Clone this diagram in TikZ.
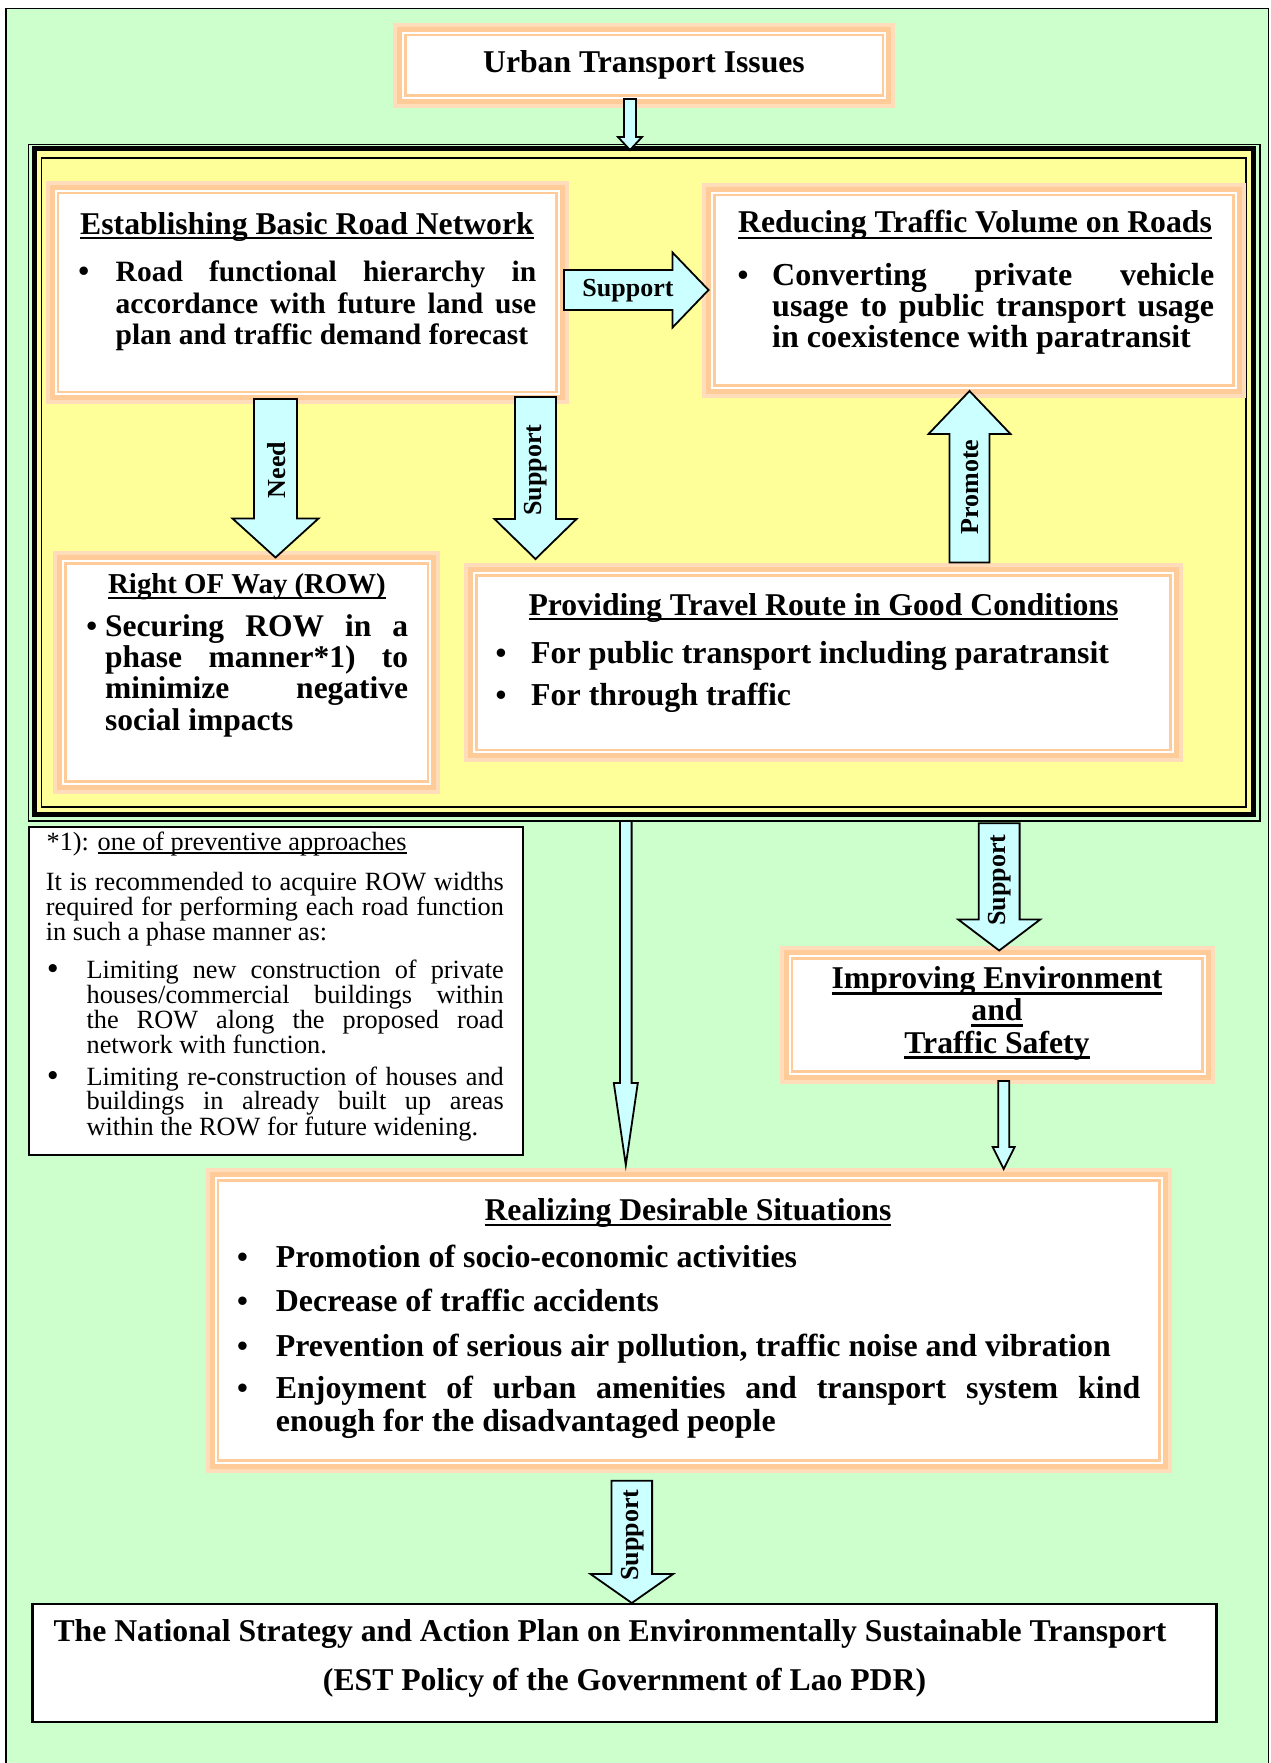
\documentclass[tikz,border=0pt]{standalone}
\usepackage{fontspec}
\setmainfont{Liberation Serif}
\usetikzlibrary{calc,fit}

\definecolor{bggreen}{HTML}{CCFFCC}
\definecolor{frameyellow}{HTML}{FFFF99}
\definecolor{peach}{HTML}{FFCC99}
\definecolor{peachlight}{HTML}{FFDDBB}
\definecolor{arrowcyan}{HTML}{CCFFFF}

% justified line / plain last line inside a parbox
\newcommand\justln[1]{\makebox[\linewidth][s]{#1}\par}
\newcommand\plainln[1]{\makebox[\linewidth][l]{#1}\par}
% underline: depth below baseline, thickness, text
\newsavebox\ulsave
\newcommand\ulin[3]{\sbox\ulsave{#3}\rlap{\rule[-#1]{\wd\ulsave}{#2}}\usebox\ulsave}

% box with layered peach border: name, x1, y1, x2, y2
\newcommand\peachbox[5]{%
  \fill[peachlight] (#2,#3) rectangle (#4,#5);
  \fill[peach] (#2+4,#3+4) rectangle (#4-4,#5-4);
  \fill[white] (#2+9,#3+9) rectangle (#4-9,#5-9);
  \fill[peach] (#2+11,#3+11) rectangle (#4-11,#5-11);
  \fill[white] (#2+13.5,#3+13.5) rectangle (#4-13.5,#5-13.5);
  \node[inner sep=0pt, fit={(#2,#3) (#4,#5)}] (#1) {};
}

% block arrow: name, start, tip, body half width, head half width, head length
\newcommand\blockarrow[6]{%
  \coordinate (#1-h) at ($(#3)!#6pt!(#2)$);
  \draw[arrowbody] ($(#2)!#4pt!90:(#3)$) -- ($(#1-h)!#4pt!90:(#3)$)
    -- ($(#1-h)!#5pt!90:(#3)$) -- (#3) -- ($(#1-h)!#5pt!-90:(#3)$)
    -- ($(#1-h)!#4pt!-90:(#3)$) -- ($(#2)!#4pt!-90:(#3)$) -- cycle;
}

\tikzset{
  hd/.style={inner sep=0pt, anchor=base, font=\bfseries\fontsize{31.7}{34}\selectfont},
  hdsmall/.style={inner sep=0pt, anchor=base, font=\bfseries\fontsize{28.8}{31}\selectfont},
  body/.style={inner sep=0pt, anchor=base west},
  bul/.style={inner sep=0pt, anchor=base, font=\bfseries\fontsize{31}{34}\selectfont},
  notebul/.style={inner sep=0pt, anchor=base, font=\bfseries\fontsize{30}{23}\selectfont},
  lbl/.style={inner sep=0pt, font=\bfseries\fontsize{26}{28}\selectfont},
  arrowbody/.style={draw=black, line width=1.8pt, fill=arrowcyan, line join=miter},
  plainbox/.style={draw=black, fill=white},
}

\begin{document}
\begin{tikzpicture}[x=1pt,y=-1pt]
\useasboundingbox (0,0) rectangle (1270,1763);

% green sheet
\fill[bggreen] (6,8.5) rectangle (1268.5,1763);
\draw[line width=1.8pt] (6,1763) -- (6,8.5) -- (1268.5,8.5) -- (1268.5,1763);

% yellow framed area
\fill[frameyellow] (34,149) rectangle (1253,814);
\draw[line width=5pt] (34,149) rectangle (1253,814);
\draw[line width=1.8pt] (41.5,158) rectangle (1246,807);
\draw[line width=1.5pt] (28.5,144.5) rectangle (1260,821);
\node[inner sep=0pt, fit={(28.5,144.5) (1260,821)}] (frame) {};

% ---------- boxes ----------
\peachbox{urban}{393}{23}{895}{108}
\peachbox{est}{45.5}{181}{568.5}{404}
\peachbox{red}{702}{183}{1245.5}{397.5}
\peachbox{row}{53}{551}{440}{793.5}
\peachbox{prov}{464}{563}{1182.5}{762}
\peachbox{impr}{779.5}{946}{1214.5}{1083.5}
\peachbox{real}{205.5}{1168}{1171.5}{1472.5}

\node[plainbox, line width=2pt, inner sep=0pt, fit={(29.3,826.7) (523,1155)}] (note) {};
\node[plainbox, line width=2.4pt, inner sep=0pt, fit={(32.4,1604) (1216.6,1721.7)}] (policy) {};

% ---------- texts ----------
\node[hd] (urbanT) at (644,73) {Urban Transport Issues};

\node[hd] (estT) at (307,234) {\ulin{5.3pt}{1.9pt}{Establishing Basic Road Network}};
\node[bul] (estBul) at (83.7,281.7) {\textbullet};
\node[body] (estB) at (115.5,281.7) {\parbox[t]{420.5pt}{\bfseries\fontsize{29.5}{31.6}\selectfont
  \justln{Road functional hierarchy in}
  \justln{accordance with future land use}
  \plainln{plan and traffic demand forecast}}};

\node[hd] (redT) at (975,232.7) {\ulin{6.5pt}{2.4pt}{Reducing Traffic Volume on Roads}};
\node[bul] (redBul) at (743,285) {\textbullet};
\node[body] (redB) at (772,285) {\parbox[t]{442pt}{\bfseries\fontsize{32}{31}\selectfont
  \justln{Converting private vehicle}
  \justln{usage to public transport usage}
  \plainln{in coexistence with paratransit}}};

\node[hdsmall] (rowT) at (247,593.3) {\ulin{6pt}{2pt}{Right OF Way (ROW)}};
\node[bul] (rowBul) at (91.8,636.7) {\textbullet};
\node[body] (rowB) at (105,636.7) {\parbox[t]{303pt}{\bfseries\fontsize{31.5}{31.1}\selectfont
  \justln{Securing ROW in a}
  \justln{phase manner*1) to}
  \justln{minimize negative}
  \plainln{social impacts}}};

\node[hd] (provT) at (823.5,615) {\ulin{5pt}{2.5pt}{Providing Travel Route in Good Conditions}};
\node[bul] (provBul1) at (501,663.3) {\textbullet};
\node[body, font=\bfseries\fontsize{31.9}{34}\selectfont] (provB1) at (531,663.3) {For public transport including paratransit};
\node[bul] (provBul2) at (501,705) {\textbullet};
\node[body, font=\bfseries\fontsize{31.9}{34}\selectfont] (provB2) at (531,705) {For through traffic};

\node[hd] (imprT1) at (997,988.3) {\ulin{7pt}{3.3pt}{Improving Environment}};
\node[hd] (imprT2) at (997,1020) {\ulin{7pt}{3.3pt}{and}};
\node[hd] (imprT3) at (997,1053.3) {\ulin{5.5pt}{3.3pt}{Traffic Safety}};

\node[hd] (realT) at (688,1220) {\ulin{6pt}{2.2pt}{Realizing Desirable Situations}};
\node[bul] (realBul1) at (242.5,1267.3) {\textbullet};
\node[body, font=\bfseries\fontsize{31.9}{34}\selectfont] (realB1) at (275.7,1267.3) {Promotion of socio-economic activities};
\node[bul] (realBul2) at (242.5,1311.7) {\textbullet};
\node[body, font=\bfseries\fontsize{31.9}{34}\selectfont] (realB2) at (275.7,1311.7) {Decrease of traffic accidents};
\node[bul] (realBul3) at (242.5,1356) {\textbullet};
\node[body, font=\bfseries\fontsize{31.9}{34}\selectfont] (realB3) at (275.7,1356) {Prevention of serious air pollution, traffic noise and vibration};
\node[bul] (realBul4) at (242.5,1398.3) {\textbullet};
\node[body] (realB4) at (275.7,1398.3) {\parbox[t]{864.4pt}{\bfseries\fontsize{31.9}{33.4}\selectfont
  \justln{Enjoyment of urban amenities and transport system kind}
  \plainln{enough for the disadvantaged people}}};

% footnote on the phased approach
\node[body, font=\fontsize{26.3}{23}\selectfont] (noteT) at (46.4,850) {*1): \ulin{3.5pt}{1.6pt}{one of preventive approaches}};
\node[body] (noteP) at (45.7,890.7) {\parbox[t]{458pt}{\fontsize{26.3}{23.1}\selectfont
  \justln{It is recommended to acquire ROW widths}
  \justln{required for performing each road function}
  \plainln{in such a phase manner as:}}};
\node[notebul] (noteBul1) at (52.9,978.3) {\textbullet};
\node[body] (noteB1) at (86.4,978.3) {\parbox[t]{417.2pt}{\fontsize{26.3}{23.3}\selectfont
  \justln{Limiting new construction of private}
  \justln{houses/commercial buildings within}
  \justln{the ROW along the proposed road}
  \plainln{network with function.}}};
\node[notebul] (noteBul2) at (52.9,1085) {\textbullet};
\node[body] (noteB2) at (86.4,1085) {\parbox[t]{417.2pt}{\fontsize{26.3}{23.3}\selectfont
  \justln{Limiting re-construction of houses and}
  \justln{buildings in already built up areas}
  \plainln{within the ROW for future widening.}}};

\node[hd] (policyT1) at (610,1641.7) {The National Strategy and Action Plan on Environmentally Sustainable Transport};
\node[hd] (policyT2) at (624.5,1690) {(EST Policy of the Government of Lao PDR)};

% ---------- block arrows ----------
\coordinate (a1s) at (630,99);     \coordinate (a1t) at (630,150);
\coordinate (a2s) at (564,290);    \coordinate (a2t) at (708.5,290);
\coordinate (a3s) at (275.5,399);  \coordinate (a3t) at (275.5,557.5);
\coordinate (a4s) at (535.5,397);  \coordinate (a4t) at (535.5,559);
\coordinate (a5s) at (969.5,562.5);\coordinate (a5t) at (969.5,391);
\coordinate (a6s) at (625.8,821);  \coordinate (a6t) at (625.8,1165);
\coordinate (a7s) at (999.2,823.3);\coordinate (a7t) at (999.2,950.5);
\coordinate (a8s) at (1003.7,1081);\coordinate (a8t) at (1003.7,1169);
\coordinate (a9s) at (631.8,1480.7);\coordinate (a9t) at (631.8,1603);

\blockarrow{a1}{a1s}{a1t}{6}{12}{13}
\blockarrow{a2}{a2s}{a2t}{20}{37.5}{36}
\blockarrow{a3}{a3s}{a3t}{21.5}{43}{39}
\blockarrow{a4}{a4s}{a4t}{20.5}{41}{40}
\blockarrow{a5}{a5s}{a5t}{20}{41}{43}
\blockarrow{a6}{a6s}{a6t}{5.8}{12}{82}
\blockarrow{a7}{a7s}{a7t}{20.4}{41}{31}
\blockarrow{a8}{a8s}{a8t}{5.5}{11}{22}
\blockarrow{a9}{a9s}{a9t}{20.3}{41.3}{29}

\node[lbl] (a2L) at (628,290.5) {Support};
\node[lbl, rotate=90] (a3L) at (276.5,470) {Need};
\node[lbl, rotate=90] (a4L) at (536,470) {Support};
\node[lbl, rotate=90] (a5L) at (970,487) {Promote};
\node[lbl, rotate=90] (a7L) at (1000,880) {Support};
\node[lbl, rotate=90] (a9L) at (632.5,1535) {Support};
\end{tikzpicture}
\end{document}
